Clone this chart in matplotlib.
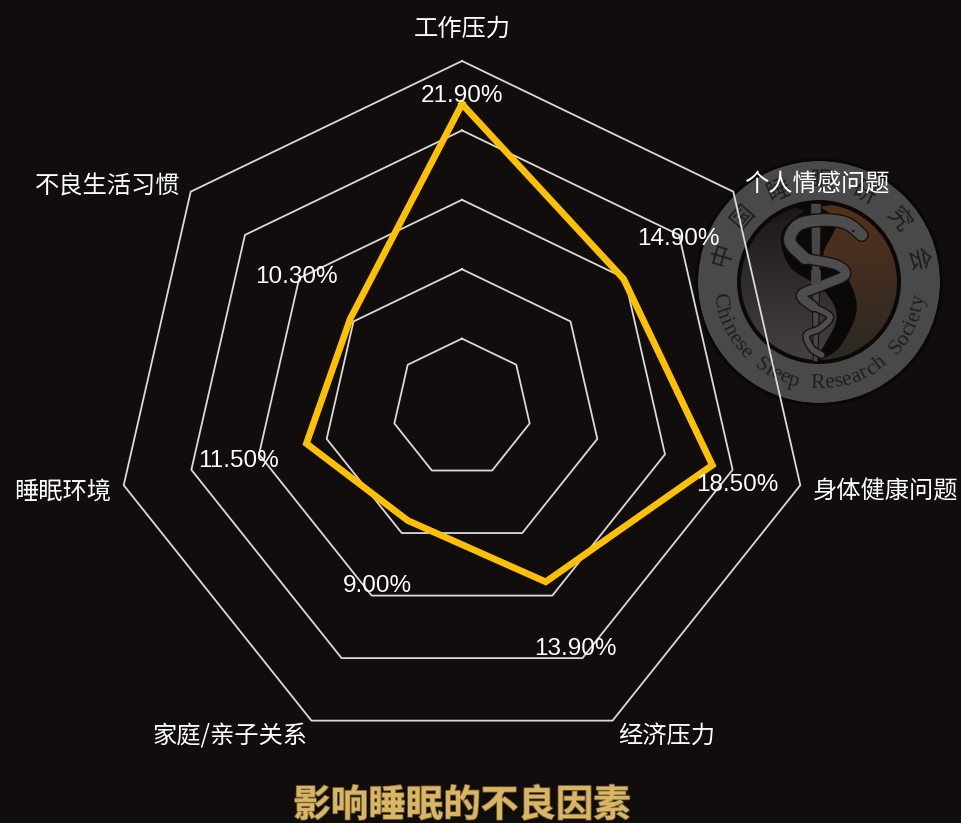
import numpy as np
import matplotlib
matplotlib.use('Agg')
import matplotlib.pyplot as plt
import matplotlib.patheffects as pe
from matplotlib.patches import Circle, PathPatch, Wedge
from matplotlib.path import Path
from matplotlib.textpath import TextPath
from matplotlib.font_manager import FontProperties

CATEGORIES = ['工作压力', '个人情感问题', '身体健康问题', '经济压力',
              '家庭/亲子关系', '睡眠环境', '不良生活习惯']
VALUES = [21.9, 14.9, 18.5, 13.9, 9.0, 11.5, 10.3]
RINGS = [5, 10, 15, 20, 25]
TITLE = '影响睡眠的不良因素'

W, H = 961, 823
BG = '#100d0c'
CX, CY, R = 462, 408, 347

plt.rcParams['font.family'] = ['Noto Sans CJK SC', 'DejaVu Sans']

fig = plt.figure(figsize=(W / 100, H / 100), dpi=100, facecolor=BG)

# pixel axes for logo and labels
bg = fig.add_axes([0, 0, 1, 1], zorder=1)
bg.set_xlim(0, W)
bg.set_ylim(H, 0)
bg.axis('off')

# logo
LX, LY = 819, 282


def zoom_pt(x, y):
    # coords from the 3x crop of the logo
    return 690 + x / 3, 160 + y / 3


def smooth(points):
    # catmull-rom through the points, as bezier segments
    pts = [np.array(zoom_pt(*p)) for p in points]
    verts = [pts[0]]
    codes = [Path.MOVETO]
    for i in range(len(pts) - 1):
        p0 = pts[max(i - 1, 0)]
        p1 = pts[i]
        p2 = pts[i + 1]
        p3 = pts[min(i + 2, len(pts) - 1)]
        verts += [p1 + (p2 - p0) / 6, p2 - (p3 - p1) / 6, p2]
        codes += [Path.CURVE4] * 3
    return Path(verts, codes)


bg.add_patch(Circle((LX, LY), 85, fc='#0b0908', ec='none', zorder=3))

# two halves of the yin-yang, each with its own vertical gradient
s_right = [(390, 140), (440, 190), (400, 290), (470, 350), (500, 450), (450, 560), (390, 600)]
s_left = [(345, 150), (275, 220), (300, 320), (400, 390), (440, 470), (400, 560), (370, 600)]
right_v = list(smooth(s_right).to_polygons(closed_only=False)[0])
left_v = list(smooth(s_left).to_polygons(closed_only=False)[0])
right_poly = np.array(right_v + [(920, LY + 90), (920, LY - 90)])
left_poly = np.array(left_v + [(720, LY + 90), (720, LY - 90)])
grad = np.linspace(0, 1, 160).reshape(-1, 1)
for poly, top, bottom in [(right_poly, '#54321a', '#2b2825'), (left_poly, '#1a1716', '#454143')]:
    c0 = np.array(matplotlib.colors.to_rgb(top))
    c1 = np.array(matplotlib.colors.to_rgb(bottom))
    rgb = c0 + grad[..., None] * (c1 - c0)
    im = bg.imshow(rgb, extent=[LX - 80, LX + 80, LY + 80, LY - 80], aspect='auto', zorder=4)
    patch = PathPatch(Path(poly), transform=bg.transData, fc='none', ec='none')
    bg.add_patch(patch)
    im.set_clip_path(patch)
bg.set_xlim(0, W)
bg.set_ylim(H, 0)

# the rings go over the gradient box so only the disc shows
bg.add_patch(Wedge((LX, LY), 118, 0, 360, width=40, fc='#0b0908', ec='none', zorder=4.5))
bg.add_patch(Wedge((LX, LY), 121, 0, 360, width=39, fc='#4a4949', ec='none', zorder=4.6))
bg.add_patch(Wedge((LX, LY), 124, 0, 360, width=3, fc='#0a0807', ec='none', zorder=4.6))

# staff and snake
bg.add_patch(PathPatch(Path([zoom_pt(362, 130), zoom_pt(394, 130), zoom_pt(384, 605),
                             zoom_pt(370, 605), zoom_pt(362, 130)]),
                       fc='#484646', ec='#151312', lw=0.8, zorder=5))
# body gets thinner towards the tail
SNAKE_PARTS = [
    ([(515, 225), (470, 190), (400, 180), (325, 195), (300, 245), (345, 295)], 8.2),
    ([(345, 295), (440, 315), (465, 345), (400, 375), (335, 405), (370, 440)], 6.5),
    ([(370, 440), (420, 470), (390, 505), (350, 525), (365, 565), (395, 585)], 4.0),
]
for part, width in SNAKE_PARTS:
    snake = smooth(part)
    bg.add_patch(PathPatch(snake, fc='none', ec='#151312', lw=width + 2, capstyle='round', zorder=6))
for part, width in SNAKE_PARTS:
    snake = smooth(part)
    bg.add_patch(PathPatch(snake, fc='none', ec='#4e4c4c', lw=width, capstyle='round', zorder=7))
bg.add_patch(PathPatch(Path([zoom_pt(378, 330), zoom_pt(378, 372)]), fc='none', ec='#484646', lw=7, zorder=8))
bg.add_patch(Circle(zoom_pt(490, 213), 1.2, fc='#151312', ec='none', zorder=8))

# ring lettering
ZH_RING = '中国睡眠研究会'
for ang, ch in zip(np.linspace(-74, 77, len(ZH_RING)), ZH_RING):
    a = np.radians(ang)
    bg.text(LX + 100 * np.sin(a), LY - 100 * np.cos(a), ch, rotation=-ang,
            rotation_mode='anchor', ha='center', va='center', fontsize=17,
            color='#201e1d', zorder=8, fontweight='light')

EN_RING = 'Chinese Sleep Research Society'
fp = FontProperties(family='Liberation Serif', size=15.5)
advance = []
for ch in EN_RING:
    advance.append(TextPath((0, 0), ch if ch != ' ' else 'n', prop=fp).get_extents().width + 1.0)
advance = np.array(advance) * 100 / 72
arc = np.degrees(advance.sum() / 102)
pos = np.cumsum(advance) - advance / 2
for p, ch in zip(pos, EN_RING):
    ang = -arc / 2 + np.degrees(p / 102)
    a = np.radians(ang)
    bg.text(LX + 102 * np.sin(a), LY + 102 * np.cos(a), ch, rotation=ang,
            rotation_mode='anchor', ha='center', va='center', fontproperties=fp,
            color='#201e1d', zorder=8)

# radar
ax = fig.add_axes([(CX - R) / W, (H - CY - R) / H, 2 * R / W, 2 * R / H],
                  projection='polar', zorder=2)
ax.patch.set_alpha(0)
ax.set_theta_zero_location('N')
ax.set_theta_direction(-1)
ax.set_ylim(0, RINGS[-1])
ax.grid(False)
ax.spines['polar'].set_visible(False)
ax.set_xticks([])
ax.set_yticks([])

theta = np.linspace(0, 2 * np.pi, len(CATEGORIES), endpoint=False)
theta_c = np.append(theta, theta[0])
for ring in RINGS:
    ax.plot(theta_c, [ring] * len(theta_c), color='#d9d9d9', lw=1.3, clip_on=False, zorder=2)

vals = VALUES + VALUES[:1]
ax.plot(theta_c, vals, color='#ffc000', lw=4.8, solid_joinstyle='miter', zorder=3, clip_on=False)

# data labels, offset from their point in px
LABEL_OFF = [(0, -8), (55, -40), (25, 20), (30, 67), (-30, 65), (-68, 17), (-54, -42)]
for t, v, off in zip(theta, VALUES, LABEL_OFF):
    ax.annotate('%.2f%%' % v, (t, v), xytext=(off[0] * 0.72, -off[1] * 0.72),
                textcoords='offset points', ha='center', va='center', color='white',
                fontsize=17.5, family='Liberation Sans', zorder=5, annotation_clip=False)

# category labels
top = fig.add_axes([0, 0, 1, 1], zorder=3)
top.set_xlim(0, W)
top.set_ylim(H, 0)
top.axis('off')
CAT_POS = [(462, 29), (817, 185), (886, 492), (667, 736), (230, 737), (63, 492), (108, 186)]
for name, pos_xy in zip(CATEGORIES, CAT_POS):
    top.text(pos_xy[0], pos_xy[1], name, ha='center', va='center', color='white', fontsize=17.5)

top.text(462, 805, TITLE, ha='center', va='center', color='#d9b564', fontsize=27,
         fontweight='bold', path_effects=[pe.withStroke(linewidth=1.2, foreground='#6b5a32')])

fig.savefig('out.png', dpi=100, facecolor=BG)
